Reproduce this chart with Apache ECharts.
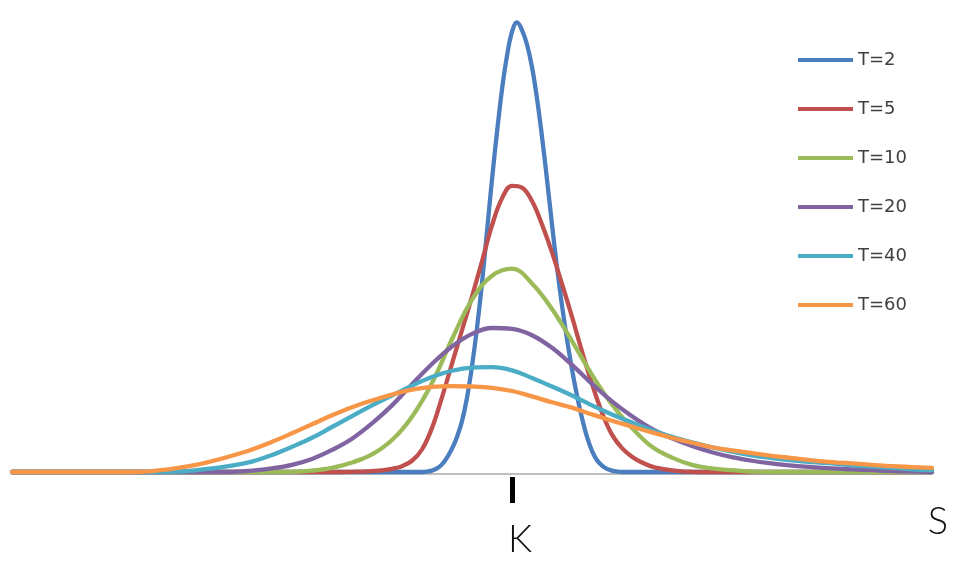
<!DOCTYPE html>
<html>
<head>
<meta charset="utf-8">
<script src="https://cdn.jsdelivr.net/npm/echarts@6/dist/echarts.min.js"></script>
<style>
  html, body { margin: 0; padding: 0; background: #fff; }
  #chart { width: 954px; height: 567px; }
</style>
</head>
<body>
<div id="chart"></div>
<script>
// Series names (legend)
const seriesNames = ['T=2', 'T=5', 'T=10', 'T=20', 'T=40', 'T=60'];
const seriesColors = ['#4A7EBF', '#C0504D', '#9BBB59', '#8064A2', '#4BACC6', '#F79646'];

// Underlying price S (strike K = 100) sample points
const sT2 = [0, 80, 81, 82, 83, 84, 85, 86, 87, 88, 89, 90, 91, 92, 93, 94, 95, 96, 97, 98, 99, 100,
  101, 102, 103, 104, 105, 106, 107, 108, 109, 110, 111, 112, 113, 114, 115, 116, 117, 118, 119, 120,
  121, 122, 123, 124, 184];
const sT5 = [0, 64, 66, 68, 70, 72, 74, 76, 78, 80, 82, 84, 86, 88, 90, 92, 94, 96, 98, 100,
  102, 104, 106, 108, 110, 112, 114, 116, 118, 120, 122, 124, 126, 128, 130, 132, 134, 136, 138, 140, 184];
const sGrid = [0, 4, 8, 12, 16, 20, 24, 28, 32, 36, 40, 44, 48, 52, 56, 60, 64, 68, 72, 76, 80, 84, 88, 92,
  96, 100, 104, 108, 112, 116, 120, 124, 128, 132, 136, 140, 144, 148, 152, 156, 160, 164, 168, 172, 176, 180, 184];

// Gamma values (relative scale, T=2 peak = 100)
const gT2 = [0, 0, 0, 0, 0.1, 0.3, 0.8, 1.7, 3.2, 5.2, 7.8, 11.3, 16.5, 23.5, 32, 42, 53.5, 65, 75.5, 85, 92.5, 97.8,
  99.9, 98.2, 95, 90, 83, 74.5, 65, 55, 45.5, 37, 29.5, 22.8, 17, 12, 7.8, 4.7, 2.6, 1.4, 0.7, 0.3,
  0.1, 0, 0, 0, 0];
const gT5 = [0, 0, 0, 0.05, 0.1, 0.2, 0.35, 0.7, 1.3, 2.5, 5.0, 9.8, 16.6, 24.1, 31.5, 39.0, 46.8, 54.8, 60.8, 63.6,
  63.2, 60.2, 55.0, 48.8, 41.8, 34.5, 26.8, 19.6, 13.2, 8.3, 5.3, 3.4, 2.1, 1.2, 0.7, 0.35, 0.15, 0.05, 0, 0, 0];
const gT10 = [0, 0, 0, 0, 0, 0, 0, 0, 0, 0, 0, 0, 0, 0, 0.05, 0.3, 0.9, 2.1, 3.9, 7.1, 12.3, 19.8, 29.5, 38.3,
  43.6, 45.2, 41.9, 36.2, 29.1, 21.6, 15.0, 9.8, 5.6, 3.2, 1.6, 0.8, 0.4, 0.1, 0, 0, 0, 0, 0, 0, 0, 0, 0];
const gT20 = [0, 0, 0, 0, 0, 0, 0, 0, 0, 0, 0, 0.05, 0.3, 0.8, 1.6, 2.9, 4.9, 7.4, 10.8, 14.8, 19.5, 24.0, 27.9, 30.7,
  32.0, 31.8, 30.4, 27.6, 23.8, 19.6, 15.7, 12.4, 9.6, 7.5, 5.8, 4.4, 3.3, 2.5, 1.9, 1.4, 1.1, 0.8, 0.6, 0.4, 0.2, 0.1, 0];
const gT40 = [0, 0, 0, 0, 0, 0, 0, 0, 0.05, 0.3, 0.8, 1.4, 2.3, 3.8, 5.6, 7.6, 10.0, 12.4, 14.8, 17.0, 19.2, 21.1, 22.5, 23.2,
  23.3, 22.6, 20.9, 19.0, 17.0, 14.8, 12.8, 11.0, 9.3, 7.8, 6.6, 5.5, 4.5, 3.7, 3.1, 2.6, 2.2, 1.9, 1.5, 1.2, 0.9, 0.6, 0.4];
const gT60 = [0, 0, 0, 0, 0, 0, 0, 0.2, 0.7, 1.4, 2.4, 3.6, 5.0, 6.7, 8.6, 10.6, 12.6, 14.4, 15.9, 17.2, 18.3, 18.9, 19.1, 19.0,
  18.7, 18.0, 16.8, 15.5, 14.3, 12.8, 11.4, 10.1, 8.8, 7.6, 6.5, 5.5, 4.8, 4.2, 3.6, 3.1, 2.6, 2.2, 1.9, 1.6, 1.3, 1.1, 0.9];

// Axis marks
const strikeValue = 100;
const strikeLabel = 'K';
const xAxisName = 'S';
const sMin = 0, sMax = 184;

const xs = [sT2, sT5, sGrid, sGrid, sGrid, sGrid];
const ys = [gT2, gT5, gT10, gT20, gT40, gT60];

const series = seriesNames.map((name, i) => ({
  name: name,
  type: 'line',
  data: xs[i].map((s, j) => [s, ys[i][j]]),
  smooth: 0.4,
  showSymbol: false,
  symbol: 'none',
  clip: false,
  color: seriesColors[i],
  lineStyle: { width: 4.3, color: seriesColors[i], cap: 'round', join: 'round' },
  xAxisIndex: 0,
  yAxisIndex: 0,
  z: 2 + i
}));

const chart = echarts.init(document.getElementById('chart'), null, { renderer: 'canvas' });
chart.setOption({
  animation: false,
  backgroundColor: '#ffffff',
  grid: { left: 12, right: 22, top: 22, bottom: 95, containLabel: false },
  legend: {
    orient: 'vertical',
    left: 793,
    top: 45,
    itemWidth: 55,
    itemHeight: 4,
    itemGap: 29,
    icon: 'rect',
    data: seriesNames,
    textStyle: { fontFamily: 'DejaVu Sans', fontSize: 18, color: '#404040', lineHeight: 20 }
  },
  xAxis: [
    {
      type: 'value', min: sMin, max: sMax, position: 'bottom', offset: 2,
      axisLine: { show: true, onZero: false, lineStyle: { color: '#ABABAB', width: 1.5 } },
      axisTick: { show: false }, axisLabel: { show: false }, splitLine: { show: false }
    },
    {
      type: 'value', min: sMin, max: sMax, position: 'bottom', offset: 5,
      axisLine: { show: false, onZero: false },
      axisTick: { show: true, customValues: [strikeValue], length: 26, lineStyle: { color: '#000', width: 5 } },
      axisLabel: {
        show: true, customValues: [strikeValue], formatter: () => strikeLabel,
        margin: 44, fontFamily: 'Lato', fontWeight: 300, fontSize: 38, color: '#111',
        padding: [0, 0, 0, 16]
      },
      splitLine: { show: false },
      name: xAxisName, nameLocation: 'end', nameGap: 6,
      nameTextStyle: { fontFamily: 'Lato', fontWeight: 300, fontSize: 38, color: '#111',
        align: 'center', verticalAlign: 'top', padding: [26, 0, 0, 0] }
    }
  ],
  yAxis: { type: 'value', min: 0, max: 100, show: false, splitLine: { show: false } },
  series: series
});
</script>
</body>
</html>
